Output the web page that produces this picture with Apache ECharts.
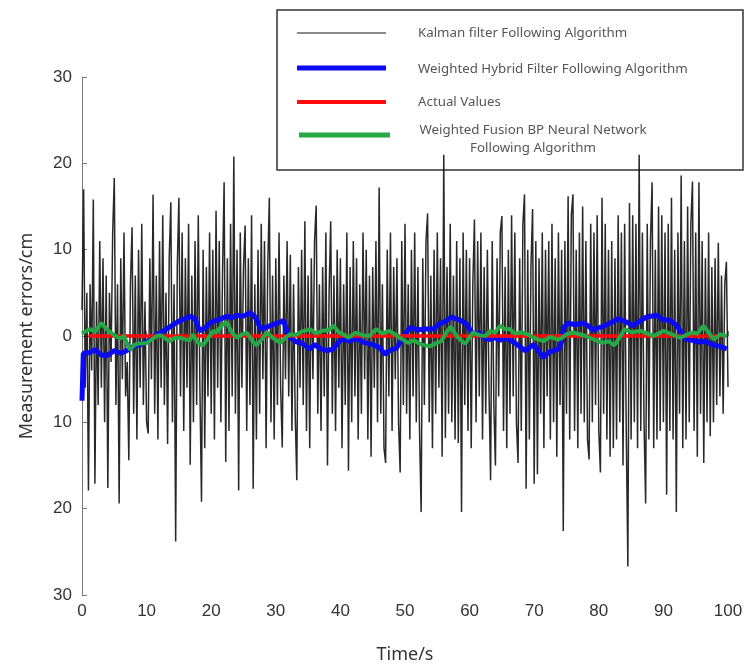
<!DOCTYPE html>
<html>
<head>
<meta charset="utf-8">
<script src="https://cdn.jsdelivr.net/npm/echarts@6/dist/echarts.min.js"></script>
<style>
  html, body { margin: 0; padding: 0; background: #fff; }
  #chart { width: 746px; height: 669px; }
</style>
</head>
<body>
<div id="chart"></div>
<script>
// Kalman filter errors, sampled every 0.25 s from 0 to 100 s
const kalmanStep = 0.25
const kalmanValues = [
  3, 17, -6, 5, -17.9, 6, -4, 15.8, -17.1, 4, -8, 11, -6, 9, -10, 7,
  -17.6, 5, -3, 12, 18.3, -8, 6, -19.4, 9, -5, 12, -7, -3, -14.4, 6, 12.6,
  -9, 7, -12, 10, -6, 13, -8, 4, -10, -11.3, 9, -5, 16.4, -9, 7, -12,
  11, -6, 14, -8, 5, -12.5, 9, 15.5, -10, 6, -23.8, 8, 16, -7, 12, -11,
  9, -6, 13, -14.9, 7, -10, 11, -8, 14, -6, -19.2, 10, -13, 8, -7, 12,
  -9, 10, -12, 14.5, -6, 11, -10, 7, 17.8, -14.6, 9, -11, 13, -7, 20.8, -9,
  10, -17.9, 12, -6, 8, 12.8, -11, 9, -8, 14, -17.7, 6, -12, 10, -9, 13,
  -5, 11, -13, 8, 16, -10, 7, -12, 9, -8, 12, -6, -12.9, 7, -5, 11,
  -7, 9.4, -11, 6, -9, -16.7, 8, -6, 10, -8, 13.3, -11, 7, -13, 9, -5,
  11, 15.1, -9, 6, -11, 8, -7, 12, -15, 5, 13.3, -9, 7, -11, 10, -6,
  9, -13, 6, -8, 12, -15.6, 8, -10, 11, -7, 9, -12, 6, -9, 12, -5,
  10, -12, 7, -14, 8, -6, 11, -10, 17.2, -9, 6, -13, -14.7, 10, -7, 12,
  -11, 8, -5, 9, -10, -15.8, 11, -8, 13, -9, 6, -12, 10, -7, 12, -10,
  8, -11, -20.4, 9, -8, 11, 14.2, -10, 7, -13, 10, -9, 12, -6, 9, -14,
  21, -11.8, 8, -9, 13, -10, 7, -12, 11, -12.4, 9, -20.4, 12, -8, 10, -11,
  9, -13, 6, 13.5, -10, 11, -7, 12, -12, 8, -9, 10, -6, -16.7, 11, -8,
  -15, 9, -7, 12, 13.9, -11, 8, -13, 10, -9, 14, -7, 12, -10, -14.7, 9,
  -11, 13, 16.4, -17.7, 10, -12, 8, 14.7, -17.1, 11, -16, 9, -9, 12, -13, 10,
  -7, 11, -12, 13, -10, 9, -14, 12, -8, 10, -22.6, 11, -9, 16.2, -12, 14,
  16.4, -11, 10, -13, 12, -9, 15, -10, 11, -12, -14.3, 13, -10, 12, -8, 14,
  -11, -15.8, 16, -9, 13, -12, 10, -14, 11, -13, 9, -12, 14, -10, 12, -15,
  13, -11, -26.7, 15.4, -12, 14, -10, 13, -13, 21, -11, 12, -10, -19.4, 13, -12,
  11, 17.8, -13, 10, -12, 15, -11, 14, -10, 12, -18.4, 13, -11, 16, -12, 10,
  -20.4, 12, -9, 18.6, -13, 11, -12, 15, -10, 13, 17.9, -11, 12, -14, 17.8, -9,
  11, -14.7, 9, -10, 12, -11.6, 8, -10, 9, -8, 10.8, -7, 7, -9, 6, 8.6,
  -5.9
]

// Weighted hybrid filter
const hybridTime = [0, 0.2, 1.2, 2, 3, 3.8, 5, 6, 6.9, 8, 9, 10, 11, 12.6, 13.5, 14.5, 15.2, 16, 16.7, 17.5,
  18.2, 19, 20, 20.8, 21.6, 22.4, 23.2, 24, 25, 26, 26.8, 27.7, 28.5, 29.5, 30.3, 31.2, 31.9, 33.2, 34, 35.3,
  36, 37, 38, 38.9, 39.6, 40.4, 41.4, 42.4, 43.5, 45, 46, 46.9, 47.8, 48.7, 49.4, 50, 50.8, 52, 52.8, 54.4,
  55.3, 56.3, 57.2, 57.8, 58.6, 59.5, 60.6, 61.5, 62.4, 63.2, 64, 64.7, 65.5, 66.8, 67.7, 68.6, 69.9, 70.6, 71.4, 72.2,
  73, 73.8, 74.2, 74.6, 75.2, 76.3, 77.6, 78.3, 79.1, 80.6, 81.8, 83, 84, 85.3, 86.5, 87.4, 89, 89.9, 91.1, 92.1,
  93.3, 94.5, 95.6, 96.5, 97.6, 98.7, 99.8]
const hybridValues = [-7.5, -2.0, -1.9, -1.6, -2.2, -2.3, -1.7, -2.0, -1.7, -1.2, -1.0, -0.7, -0.1, 0.6, 1.0, 1.5, 1.8, 2.0, 2.3, 2.0,
  0.6, 0.9, 1.6, 1.8, 2.0, 2.3, 2.1, 2.4, 2.3, 2.7, 2.2, 0.8, 1.0, 1.3, 1.5, 1.8, 0, -0.7, -0.8, -1.5,
  -1.0, -1.5, -1.7, -1.5, -0.8, -0.3, -0.6, -0.3, -0.7, -1.0, -1.3, -2.1, -1.6, -1.4, -0.5, 0.2, 1.0, 0.7, 0.8, 0.8,
  1.4, 1.7, 2.2, 2.0, 1.8, 1.4, 0.1, 0.4, -0.3, -0.4, -0.2, -0.5, -0.2, -0.7, -1.2, -1.7, -1.0, -1.6, -2.5, -1.9,
  -1.7, -1.5, -0.7, 1.0, 1.5, 1.3, 1.5, 1.2, 0.7, 1.1, 1.5, 2.0, 1.7, 1.2, 1.8, 2.2, 2.4, 1.9, 1.8, 1.2,
  -0.3, -0.5, -0.7, -0.6, -1.0, -1.2, -1.5]

// Actual values
const actualTime = [1, 99]
const actualValues = [0, 0]

// Weighted fusion BP neural network
const fusionTime = [0, 1.2, 2, 3, 3.8, 4.8, 5.9, 6.5, 7.4, 8.2, 8.7, 10, 11, 11.6, 12.1, 13.1, 13.6, 14.4, 15.2, 16,
  16.7, 17.1, 18, 18.7, 19.5, 20.3, 20.8, 21.4, 21.9, 22.4, 23.2, 24, 24.8, 25.5, 26.2, 27, 27.8, 28.6, 29.5, 30.7,
  31.5, 32.2, 33, 34, 35.3, 36.2, 37.2, 38.2, 38.9, 39.8, 40.5, 41.2, 42.4, 43.4, 44.5, 45.5, 46.5, 47.6, 48.4, 49.2,
  50.5, 51.3, 52.6, 53.9, 54.6, 55.6, 56.4, 57.1, 57.9, 58.5, 59.3, 60.5, 61.5, 62.5, 63.2, 64, 64.7, 65.5, 66.2, 67,
  68, 69, 69.9, 70.6, 71.4, 72.5, 73.5, 74.2, 75, 76, 77, 78, 79.2, 80.6, 81.5, 82.4, 83.2, 84, 85.1, 86.4,
  87.5, 88.5, 89.3, 90, 91.3, 92.6, 93.5, 94.4, 95.3, 96.2, 97, 97.8, 98.8, 99.8]
const fusionValues = [0.3, 0.8, 0.5, 1.5, 0.8, 0.2, -0.3, 0.0, -1.6, -1.0, -0.9, -0.8, -0.3, 0.0, 0.1, -0.4, -0.6, -0.2, -0.2, -0.4,
  -0.5, 0.2, -0.8, -1.1, -0.3, 0.6, 0.4, 1.0, 1.4, 1.6, 0.4, -0.2, 0.2, 0.4, -0.4, -1.1, -0.4, 0.4, -0.2, -0.8,
  -0.2, 0.2, 0.1, 0.5, 0.8, 0.3, 0.6, 0.7, 1.2, 0.4, 0.2, -0.2, 0.4, 0.1, 0.0, 0.8, 0.3, 0.6, 0.2, -0.2,
  -0.8, -0.5, -1.0, -1.2, -0.9, -0.6, 0.4, 1.1, 0.1, -0.4, -0.9, 0.4, 0.1, 0.0, 0.6, 0.4, 1.2, 0.8, 0.8, 0.3,
  0.4, 0.2, -0.2, -0.4, -0.6, -0.1, -0.4, -0.3, 0.2, 0.4, 0.2, 0.0, -0.4, -0.8, -0.6, -1.1, -0.2, 0.8, 0.4, 0.6,
  0.3, 0.0, 0.3, 0.6, 0.2, -0.2, 0.1, 0.4, 0.3, 1.2, 0.4, -0.4, 0.2, 0.0]

const seriesNames = [
  'Kalman filter Following Algorithm',
  'Weighted Hybrid Filter Following Algorithm',
  'Actual Values',
  'Weighted Fusion BP Neural Network\nFollowing Algorithm'
]

function pairs (xs, ys) {
  return ys.map((v, i) => [xs[i], v])
}

const kalmanData = kalmanValues.map((v, i) => [i * kalmanStep, v])

const chart = echarts.init(document.getElementById('chart'))

const axisFont = 'Liberation Sans, Arial, sans-serif'
const legendFont = { fontSize: 13.3, fill: '#555', fontFamily: 'Noto Sans', verticalAlign: 'middle' }
const option = {
  animation: false,
  grid: {
    left: 82,
    right: 18,
    top: 77,
    bottom: 73
  },
  xAxis: {
    type: 'value',
    min: 0,
    max: 100,
    interval: 10,
    name: 'Time/s',
    nameLocation: 'middle',
    nameGap: 51,
    nameTextStyle: { fontSize: 18, color: '#333', fontFamily: 'Noto Sans' },
    axisLine: { lineStyle: { color: '#777', width: 1 } },
    axisTick: { inside: true, length: 5, lineStyle: { color: '#777' } },
    axisLabel: { fontSize: 17, color: '#333', margin: 8, fontFamily: axisFont },
    splitLine: { show: false }
  },
  yAxis: {
    type: 'value',
    min: -30,
    max: 30,
    interval: 10,
    name: 'Measurement errors/cm',
    nameLocation: 'middle',
    nameGap: 46,
    nameTextStyle: { fontSize: 18, color: '#333', fontFamily: 'Noto Sans' },
    axisLine: { show: true, lineStyle: { color: '#777', width: 1 } },
    axisTick: { show: true, inside: true, length: 5, lineStyle: { color: '#777' } },
    axisLabel: {
      fontSize: 17,
      color: '#333',
      margin: 10,
      fontFamily: axisFont,
      formatter: v => String(Math.abs(v)) // the figure shows magnitudes on both sides of 0
    },
    splitLine: { show: false }
  },
  series: [
    {
      name: seriesNames[0],
      type: 'line',
      data: kalmanData,
      showSymbol: false,
      lineStyle: { color: '#111', width: 1.5, opacity: 0.9 },
      z: 1
    },
    {
      name: seriesNames[1],
      type: 'line',
      data: pairs(hybridTime, hybridValues),
      showSymbol: false,
      lineStyle: { color: '#0a0af5', width: 5 },
      z: 2
    },
    {
      name: seriesNames[2],
      type: 'line',
      data: pairs(actualTime, actualValues),
      showSymbol: false,
      lineStyle: { color: '#ff0a0a', width: 3.5 },
      z: 3
    },
    {
      name: seriesNames[3],
      type: 'line',
      data: pairs(fusionTime, fusionValues),
      showSymbol: false,
      lineStyle: { color: '#25a845', width: 4 },
      z: 4
    }
  ],
  // legend box drawn by hand, it sits on top of the plot
  graphic: [
    {
      type: 'group',
      z: 100,
      children: [
        { type: 'rect', shape: { x: 277, y: 10, width: 466, height: 160 }, style: { fill: '#fff', stroke: '#333', lineWidth: 1.5 } },
        { type: 'line', shape: { x1: 297, y1: 33, x2: 386, y2: 33 }, style: { stroke: '#8a8a8a', lineWidth: 2 } },
        { type: 'line', shape: { x1: 297, y1: 68, x2: 386, y2: 68 }, style: { stroke: '#0a0af5', lineWidth: 5 } },
        { type: 'line', shape: { x1: 297, y1: 102, x2: 386, y2: 102 }, style: { stroke: '#ff0a0a', lineWidth: 4 } },
        { type: 'line', shape: { x1: 299, y1: 135, x2: 390, y2: 135 }, style: { stroke: '#25a845', lineWidth: 5 } },
        { type: 'text', x: 418, y: 33, style: Object.assign({ text: seriesNames[0] }, legendFont) },
        { type: 'text', x: 418, y: 69, style: Object.assign({ text: seriesNames[1] }, legendFont) },
        { type: 'text', x: 418, y: 102, style: Object.assign({ text: seriesNames[2] }, legendFont) },
        { type: 'text', x: 533, y: 139, style: Object.assign({ text: seriesNames[3], lineHeight: 18, align: 'center' }, legendFont) }
      ]
    }
  ]
}

chart.setOption(option)
window.addEventListener('resize', () => chart.resize())
</script>
</body>
</html>
